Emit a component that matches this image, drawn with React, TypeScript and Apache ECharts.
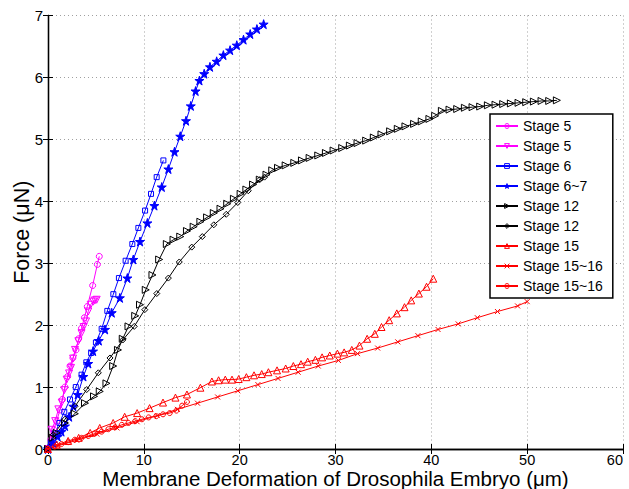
import React, { useEffect, useRef } from "react";
import * as echarts from "echarts";

const seriesNames = ["Stage 5", "Stage 5", "Stage 6", "Stage 6~7", "Stage 12", "Stage 12", "Stage 15", "Stage 15~16", "Stage 15~16"];

const stage5Circle: number[][] = [
  [0, 0], [0.3, 0.15], [0.6, 0.31], [0.9, 0.45], [1.25, 0.63], [1.5, 0.8], [1.77, 1.0], [2.05, 1.17],
  [2.3, 1.34], [2.6, 1.47], [2.92, 1.6], [3.2, 1.78], [3.5, 1.95], [3.8, 2.12], [4.1, 2.3], [4.66, 2.64],
  [5.15, 2.98], [5.35, 3.11],
];
const stage5Tri: number[][] = [
  [0, 0], [0.38, 0.31], [0.75, 0.45], [1.08, 0.64], [1.43, 0.75], [1.7, 0.95], [1.95, 1.12], [2.2, 1.22],
  [2.4, 1.31], [2.62, 1.46], [2.82, 1.6], [3.17, 1.74], [3.5, 1.87], [3.72, 1.97], [3.97, 2.06], [4.2, 2.22],
  [4.45, 2.33], [4.73, 2.38], [4.9, 2.4], [5.08, 2.41],
];
const stage6Square: number[][] = [
  [0, 0], [0.3, 0.1], [0.7, 0.25], [1.2, 0.42], [1.7, 0.6], [2.3, 0.8], [2.9, 1.0], [3.5, 1.2],
  [4.0, 1.4], [4.5, 1.55], [5.0, 1.72], [5.6, 1.94], [6.19, 2.23], [6.82, 2.5], [7.4, 2.76], [8.1, 3.04],
  [8.8, 3.31], [9.43, 3.57], [10.13, 3.85], [10.75, 4.12], [11.34, 4.39], [12.04, 4.66],
];
const stage67Star: number[][] = [
  [0, 0], [0.5, 0.1], [1.0, 0.2], [1.4, 0.28], [1.77, 0.37], [2.2, 0.52], [2.64, 0.69], [3.1, 0.88],
  [3.69, 1.17], [4.2, 1.38], [4.7, 1.58], [5.3, 1.75], [5.95, 1.93], [6.65, 2.2], [7.5, 2.44], [8.28, 2.76],
  [8.9, 3.06], [9.6, 3.35], [10.37, 3.65], [11.1, 3.93], [11.87, 4.23], [12.56, 4.52], [13.2, 4.8],
  [13.8, 5.05], [14.4, 5.3], [14.9, 5.54], [15.4, 5.78], [15.8, 5.95], [16.3, 6.06], [16.9, 6.17],
  [17.6, 6.26], [18.3, 6.36], [19.0, 6.44], [19.7, 6.52], [20.4, 6.61], [21.1, 6.7], [21.8, 6.78], [22.5, 6.86],
];
const stage12Tri: number[][] = [
  [0, 0], [0.5, 0.18], [0.9, 0.26], [1.77, 0.42], [2.8, 0.57], [3.86, 0.74], [4.8, 0.85], [5.4, 0.93],
  [6.1, 1.06], [6.8, 1.34], [7.3, 1.6], [7.8, 1.78], [8.4, 1.98], [9.1, 2.15], [9.6, 2.33], [10.2, 2.57],
  [10.9, 2.81], [11.6, 3.06], [12.4, 3.31], [13.1, 3.38], [13.8, 3.43], [14.5, 3.52], [15.2, 3.59],
  [15.9, 3.67], [16.6, 3.74], [17.3, 3.81], [18.0, 3.88], [18.7, 3.96], [19.4, 4.04], [20.1, 4.12],
  [20.7, 4.19], [21.4, 4.27], [22.1, 4.35], [22.8, 4.43], [23.4, 4.5], [24.0, 4.54], [24.8, 4.58],
  [25.7, 4.62], [26.5, 4.66], [27.3, 4.7], [28.2, 4.74], [29.0, 4.78], [29.8, 4.82], [30.7, 4.86],
  [31.5, 4.9], [32.3, 4.94], [33.2, 4.98], [34.0, 5.03], [34.8, 5.08], [35.7, 5.13], [36.5, 5.17],
  [37.3, 5.21], [38.2, 5.25], [39.0, 5.29], [39.8, 5.33], [40.4, 5.38], [41.1, 5.46], [41.9, 5.48],
  [42.7, 5.49], [43.5, 5.51], [44.3, 5.52], [45.1, 5.53], [45.9, 5.55], [46.7, 5.56], [47.5, 5.57],
  [48.3, 5.58], [49.1, 5.59], [49.9, 5.6], [50.7, 5.61], [51.5, 5.62], [52.3, 5.62], [53.1, 5.63],
];
const stage12Diamond: number[][] = [
  [0, 0], [0.55, 0.23], [1.77, 0.48], [2.82, 0.69], [4.04, 0.96], [5.25, 1.23], [6.47, 1.47], [7.8, 1.76],
  [9.0, 1.98], [10.1, 2.25], [11.35, 2.51], [12.56, 2.76], [13.7, 3.02], [15.0, 3.26], [16.1, 3.43],
  [17.3, 3.62], [18.6, 3.79], [19.8, 3.98], [20.9, 4.17], [22.1, 4.35], [22.6, 4.39],
];
const stage15Tri: number[][] = [
  [0, 0], [0.9, 0.07], [2.1, 0.13], [3.2, 0.18], [4.4, 0.26], [5.4, 0.34], [6.8, 0.42], [8.0, 0.52],
  [9.3, 0.58], [10.6, 0.66], [12.0, 0.75], [13.3, 0.83], [14.5, 0.88], [15.9, 0.99], [17.1, 1.09],
  [17.8, 1.11], [18.5, 1.12], [19.2, 1.12], [19.9, 1.13], [20.7, 1.16], [21.5, 1.19], [22.3, 1.21],
  [23.0, 1.24], [23.9, 1.27], [24.8, 1.3], [25.6, 1.34], [26.4, 1.37], [27.1, 1.41], [27.9, 1.44],
  [28.6, 1.48], [29.4, 1.51], [30.2, 1.54], [30.9, 1.56], [31.7, 1.6], [32.5, 1.67], [33.3, 1.78],
  [34.1, 1.86], [34.8, 1.97], [35.6, 2.08], [36.4, 2.19], [37.2, 2.29], [37.9, 2.4], [38.7, 2.51],
  [39.5, 2.62], [40.2, 2.75],
];
const stage1516Cross: number[][] = [
  [0, 0], [1.0, 0.05], [3.0, 0.14], [5.1, 0.24], [7.2, 0.34], [9.3, 0.44], [11.4, 0.54], [13.5, 0.64],
  [15.6, 0.74], [17.7, 0.84], [19.8, 0.94], [21.9, 1.04], [24.0, 1.14], [26.1, 1.24], [28.2, 1.34],
  [30.3, 1.43], [32.3, 1.54], [34.4, 1.63], [36.5, 1.73], [38.6, 1.83], [40.7, 1.93], [42.8, 2.02],
  [44.8, 2.12], [46.9, 2.22], [49.0, 2.31], [50.0, 2.38],
];
const stage1516Circle: number[][] = [
  [0, 0], [0.7, 0.04], [1.4, 0.08], [2.1, 0.11], [2.8, 0.15], [3.5, 0.18], [4.2, 0.21], [4.9, 0.25],
  [5.6, 0.28], [6.3, 0.32], [7.0, 0.35], [7.7, 0.39], [8.4, 0.42], [9.1, 0.45], [9.8, 0.48], [10.5, 0.51],
  [11.3, 0.53], [12.0, 0.56], [12.7, 0.58], [13.4, 0.62], [14.0, 0.7], [14.5, 0.76],
];

const xTicks = { min: 0, max: 60, interval: 10 };
const yTicks = { min: 0, max: 7, interval: 1 };

const STAR = "path://M50,0 L61,35 L98,35 L68,57 L79,91 L50,70 L21,91 L32,57 L2,35 L39,35 Z";
const CROSS = "path://M0,0 L10,10 M10,0 L0,10";
const FONT = "Liberation Sans, Arial, Helvetica, sans-serif";
const HOLLOW = "rgba(255,255,255,0)";

function mk(idx: number, data: number[][], color: string, symbol: string, size: number, opts: any = {}) {
  return {
    type: "line",
    name: seriesNames[idx] + "#" + idx,
    data,
    symbol,
    symbolSize: size,
    symbolRotate: opts.rotate || 0,
    showAllSymbol: true,
    lineStyle: { color, width: 1 },
    itemStyle: {
      color: opts.filled ? color : HOLLOW,
      borderColor: color,
      borderWidth: 1,
    },
    emphasis: { disabled: true },
    z: 2,
  };
}

export default function App() {
  const ref = useRef<HTMLDivElement>(null);
  useEffect(() => {
    const chart = echarts.init(ref.current!, null, { renderer: "svg" });
    const axisCommon = {
      type: "value",
      axisLine: { show: true, lineStyle: { color: "#000", width: 1.3 } },
      axisTick: { show: true, inside: true, length: 5, lineStyle: { color: "#000" } },
    };
    const series = [
      mk(0, stage5Circle, "#ff00ff", "circle", 6),
      mk(1, stage5Tri, "#ff00ff", "triangle", 7, { rotate: 180 }),
      mk(2, stage6Square, "#0000ff", "rect", 5),
      mk(3, stage67Star, "#0000ff", STAR, 9, { filled: true }),
      mk(4, stage12Tri, "#000000", "triangle", 7, { rotate: -90 }),
      mk(5, stage12Diamond, "#000000", "diamond", 6),
      mk(6, stage15Tri, "#ff0000", "triangle", 7),
      mk(7, stage1516Cross, "#ff0000", CROSS, 5),
      mk(8, stage1516Circle, "#ff0000", "circle", 5),
    ];
    chart.setOption({
      animation: false,
      textStyle: { fontFamily: FONT },
      grid: { left: 48, right: 6, top: 15.5, bottom: 40, containLabel: false, outerBoundsMode: "none" },
      legend: {
        show: true,
        orient: "vertical",
        left: 490,
        top: 114,
        itemWidth: 22,
        itemHeight: 6,
        itemGap: 6,
        padding: [5, 10, 5, 5],
        backgroundColor: "#fff",
        borderColor: "#000",
        borderWidth: 1.5,
        textStyle: { fontSize: 14, color: "#000", fontFamily: FONT, lineHeight: 14 },
        formatter: (name: string) => name.split("#")[0],
        data: series.map((s: any) => ({
          name: s.name,
          itemStyle: { color: s.itemStyle.color, borderColor: s.itemStyle.borderColor, borderWidth: 1 },
        })),
        selectedMode: false,
      },
      xAxis: [
        {
          ...axisCommon,
          ...xTicks,
          position: "bottom",
          name: "Membrane Deformation of Drosophila Embryo (\u03bcm)",
          nameLocation: "middle",
          nameGap: 19,
          nameMoveOverlap: false,
          nameTextStyle: { fontSize: 20.5, color: "#000", fontFamily: FONT, lineHeight: 20 },
          axisLabel: { fontSize: 14.5, color: "#000", margin: 4, lineHeight: 14, fontFamily: FONT, alignMaxLabel: "right" },
          splitLine: { show: true, lineStyle: { color: "#a0a0a0", type: [1, 3], width: 1 } },
        },
        {
          ...axisCommon,
          ...xTicks,
          position: "top",
          axisLabel: { show: false },
          splitLine: { show: false },
        },
      ],
      yAxis: [
        {
          ...axisCommon,
          ...yTicks,
          position: "left",
          name: "Force (\u03bcN)",
          nameLocation: "middle",
          nameGap: 15,
          nameMoveOverlap: false,
          nameTextStyle: { fontSize: 21.5, color: "#000", fontFamily: FONT },
          axisLabel: { fontSize: 15, color: "#000", margin: 5, fontFamily: FONT },
          splitLine: { show: true, lineStyle: { color: "#a0a0a0", type: [1, 3], width: 1 } },
        },
        {
          ...axisCommon,
          ...yTicks,
          position: "right",
          axisLabel: { show: false },
          splitLine: { show: false },
        },
      ],
      series,
    });
    return () => chart.dispose();
  }, []);
  return <div ref={ref} style={{ width: 629, height: 489, position: "absolute", left: 0, top: 0 }} />;
}
